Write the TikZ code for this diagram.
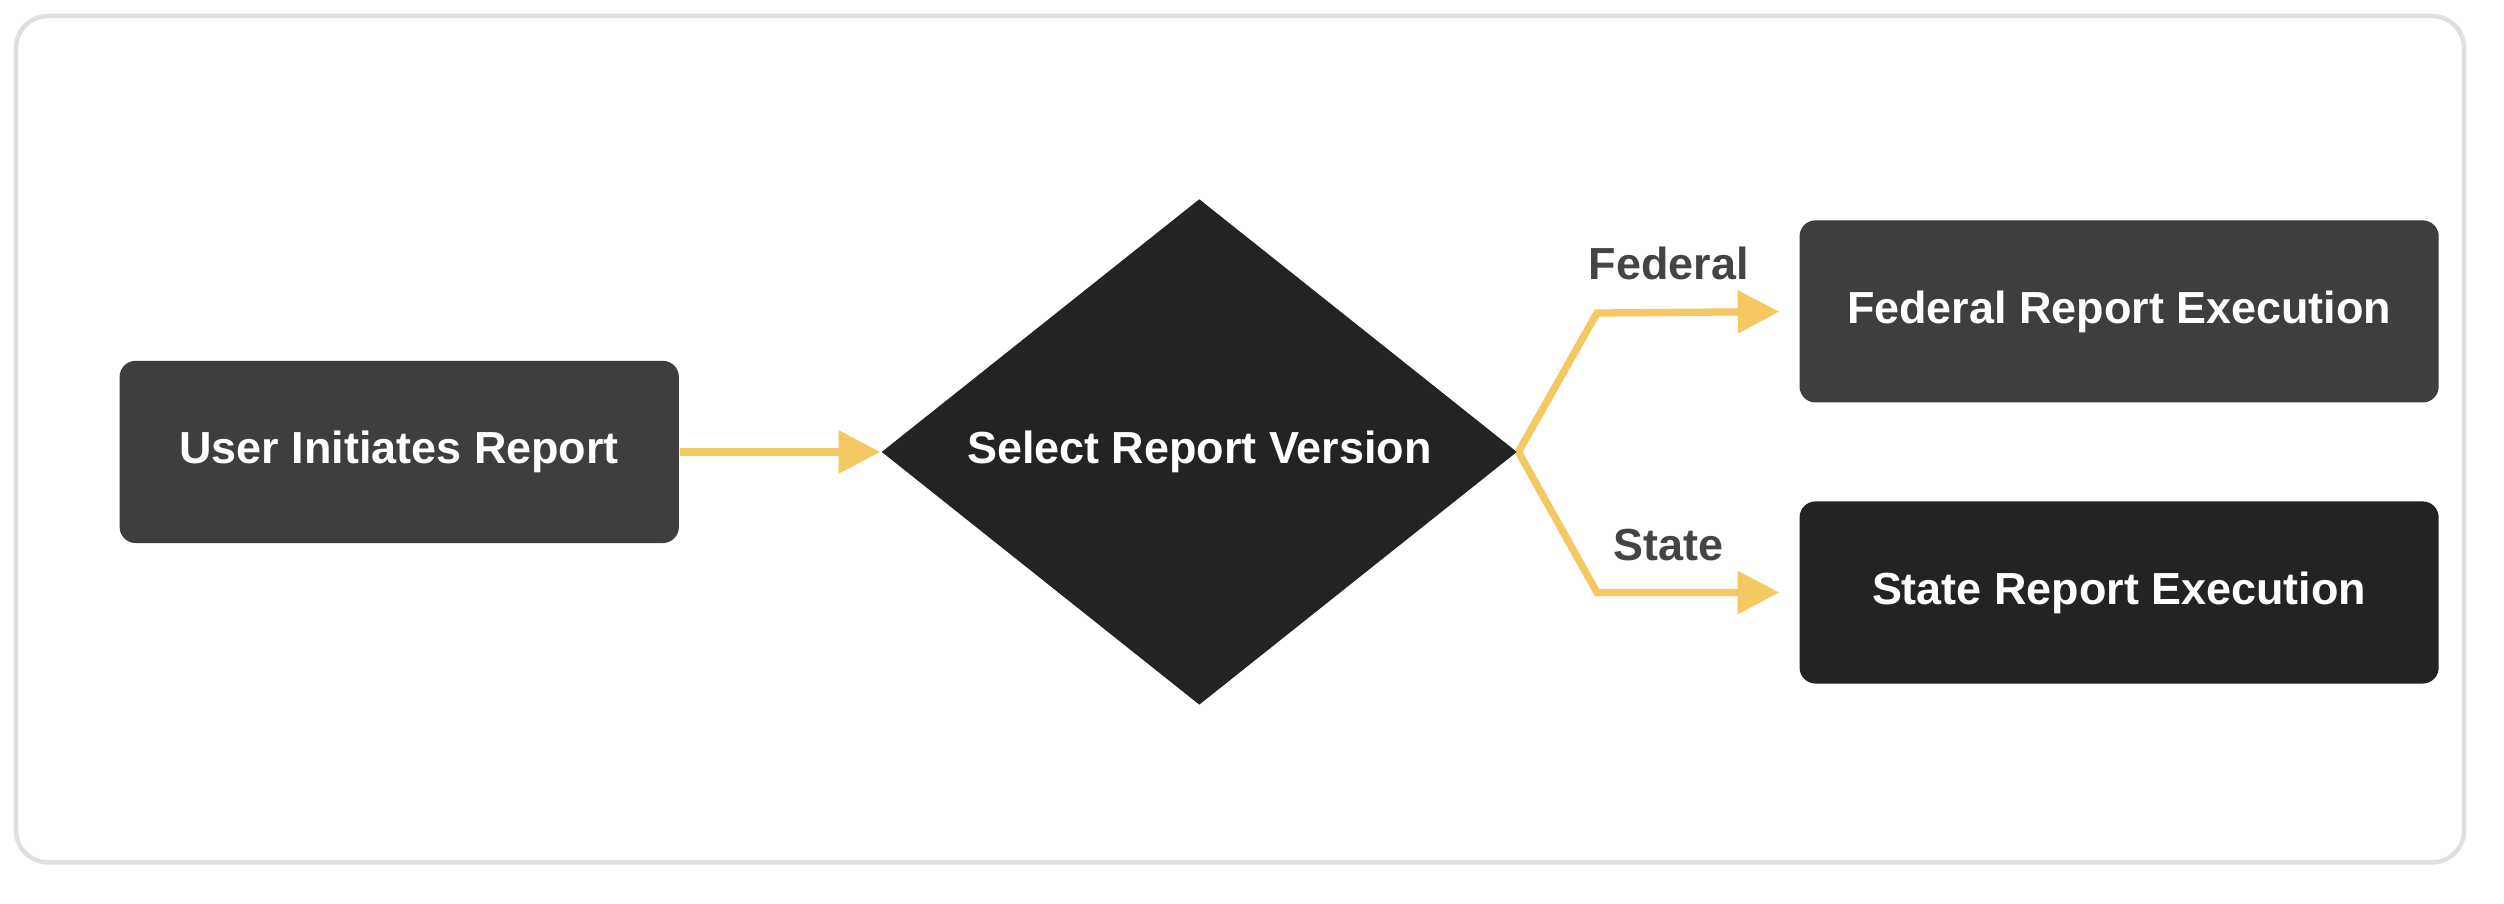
\documentclass[tikz,border=0pt]{standalone}
\usepackage{fontspec}
\setmainfont{Liberation Sans}
\usetikzlibrary{shapes.geometric,arrows.meta}
\definecolor{boxdark}{HTML}{3E3E3E}
\definecolor{boxblack}{HTML}{232323}
\definecolor{flow}{HTML}{F5C862}
\definecolor{labelgray}{HTML}{444444}
\tikzset{
  task/.style={rectangle,rounded corners=0.1cm,minimum width=3.5cm,minimum height=1.14cm,
    text=white,font=\fontsize{8}{9}\selectfont\bfseries},
  choice/.style={diamond,fill=boxblack,minimum width=3.98cm,minimum height=2.74cm,inner sep=0pt,
    text=white,font=\fontsize{8}{9}\selectfont\bfseries},
  flowline/.style={flow,line width=1.3pt,-{Triangle[length=0.26cm,width=0.26cm]}},
  branch/.style={font=\fontsize{8}{9}\selectfont\bfseries,text=labelgray}
}
\begin{document}
\begin{tikzpicture}[x=0.01cm,y=-0.01cm]
\useasboundingbox (0,0) rectangle (1568,566);
\draw[black!12,line width=0.8pt,fill=white,rounded corners=0.2cm] (10,10) rectangle (1543,540);

\node[task,fill=boxdark] (user) at (250,283) {User Initiates Report};
\node[choice] (select) at (751,283) {Select Report Version};
\node[task,fill=boxdark,minimum width=4cm] (federal) at (1327,195) {Federal Report Execution};
\node[task,fill=boxblack,minimum width=4cm] (state) at (1327,371) {State Report Execution};

\coordinate (fedbend) at (1000,196);
\coordinate (statebend) at (1000,371);

\draw[flowline] (user.east) -- (select.west);
\draw[flowline,shorten >=0.12cm] (select.east) -- (fedbend) -- (federal.west);
\draw[flowline,shorten >=0.12cm] (select.east) -- (statebend) -- (state.west);

\node[branch] (fedlabel) at (1045,165) {Federal};
\node[branch] (statelabel) at (1045,341) {State};
\end{tikzpicture}
\end{document}
